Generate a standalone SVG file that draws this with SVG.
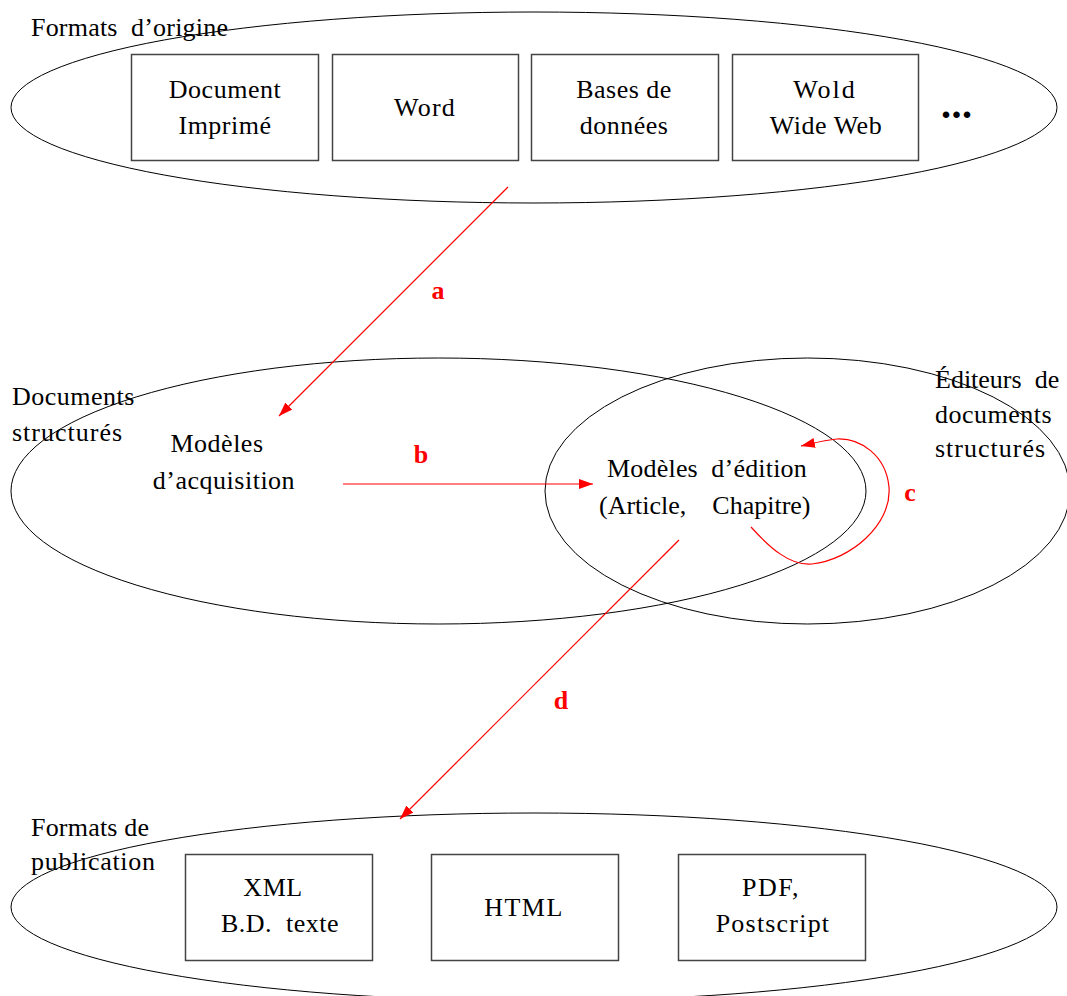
<svg xmlns="http://www.w3.org/2000/svg" width="1067" height="996" viewBox="0 0 1067 996">
<style>
text{font-family:"Liberation Serif",serif;font-weight:normal;font-style:normal}
.t{font-size:26px;fill:#000;white-space:pre;letter-spacing:0.5px}
.m{text-anchor:middle}
.lbl{font-size:26px;font-weight:bold;fill:#ff0000;text-anchor:middle}
.ell{fill:none;stroke:#000;stroke-width:1}
.box{fill:#fff;stroke:#444;stroke-width:1.5}
.arr{fill:none;stroke:#ff0000;stroke-width:1.2;marker-end:url(#ah)}
</style>
<defs>
<marker id="ah" markerUnits="userSpaceOnUse" markerWidth="16" markerHeight="12" refX="14" refY="5" orient="auto">
<path d="M0,0 L14,5 L0,10 z" fill="#ff0000"/>
</marker>
</defs>
<g id="formats-origine">
<ellipse class="ell" cx="534" cy="107.5" rx="523" ry="95.5"/>
<text class="t" x="31" y="36" style="letter-spacing:0.2px">Formats  d’origine</text>
</g>
<g id="document-imprime">
<rect class="box" x="131.5" y="54.5" width="187" height="106"/>
<text class="t m" x="225" y="98">Document</text>
<text class="t m" x="225" y="134">Imprimé</text>
</g>
<g id="word">
<rect class="box" x="332.5" y="54.5" width="186" height="106"/>
<text class="t m" x="425" y="116" style="letter-spacing:1.2px">Word</text>
</g>
<g id="bases-donnees">
<rect class="box" x="531.5" y="54.5" width="187" height="106"/>
<text class="t m" x="624" y="98">Bases de</text>
<text class="t m" x="624" y="134">données</text>
</g>
<g id="wold-wide-web">
<rect class="box" x="732.5" y="54.5" width="186" height="106"/>
<text class="t m" x="825" y="98" style="letter-spacing:2px">Wold</text>
<text class="t m" x="826" y="134">Wide Web</text>
</g>
<g id="etc">
<text class="t" x="941" y="118" style="font-weight:bold;font-size:40px;letter-spacing:0.5px">...</text>
</g>
<g id="documents-structures">
<ellipse class="ell" cx="438.5" cy="491" rx="427.5" ry="133"/>
<text class="t" x="12" y="405">Documents</text>
<text class="t" x="12" y="441" style="letter-spacing:1px">structurés</text>
</g>
<g id="editeurs">
<ellipse class="ell" cx="807.5" cy="491" rx="262.5" ry="133"/>
<text class="t" x="935" y="388" style="letter-spacing:0px">Éditeurs  de</text>
<text class="t" x="935" y="423">documents</text>
<text class="t" x="935" y="457" style="letter-spacing:1px">structurés</text>
</g>
<g id="modeles-acquisition">
<text class="t m" x="217" y="452">Modèles</text>
<text class="t m" x="224" y="489">d’acquisition</text>
</g>
<g id="modeles-edition">
<text class="t" x="607" y="477" style="letter-spacing:0.2px">Modèles  d’édition</text>
<text class="t" x="599" y="514" style="letter-spacing:0px">(Article,    Chapitre)</text>
</g>
<g id="formats-publication">
<ellipse class="ell" cx="534" cy="907" rx="523" ry="94"/>
<text class="t" x="31" y="836" style="letter-spacing:0.2px">Formats de</text>
<text class="t" x="31" y="870" style="letter-spacing:0.7px">publication</text>
</g>
<g id="xml">
<rect class="box" x="185.5" y="854.5" width="187" height="106"/>
<text class="t m" x="273" y="896">XML</text>
<text class="t m" x="280" y="932">B.D.  texte</text>
</g>
<g id="html">
<rect class="box" x="431.5" y="854.5" width="187" height="106"/>
<text class="t m" x="524" y="916" style="letter-spacing:1.5px">HTML</text>
</g>
<g id="pdf">
<rect class="box" x="678.5" y="854.5" width="187" height="106"/>
<text class="t m" x="771" y="896" style="letter-spacing:1.5px">PDF,</text>
<text class="t m" x="773" y="932" style="letter-spacing:1.2px">Postscript</text>
</g>
<g id="connectors">
<line class="arr" x1="508" y1="187" x2="279" y2="416"/>
<text class="lbl" x="438" y="299">a</text>
<line class="arr" x1="343" y1="484" x2="593" y2="484"/>
<text class="lbl" x="421" y="463">b</text>
<path class="arr" d="M751,527 C770,548 790,566 812,564 C850,560 892,525 889,487 C886,455 860,438 837,439 C825,440 814,443 801,446"/>
<text class="lbl" x="910" y="501">c</text>
<line class="arr" x1="679" y1="540" x2="400" y2="819"/>
<text class="lbl" x="561" y="709">d</text>
</g>
</svg>
